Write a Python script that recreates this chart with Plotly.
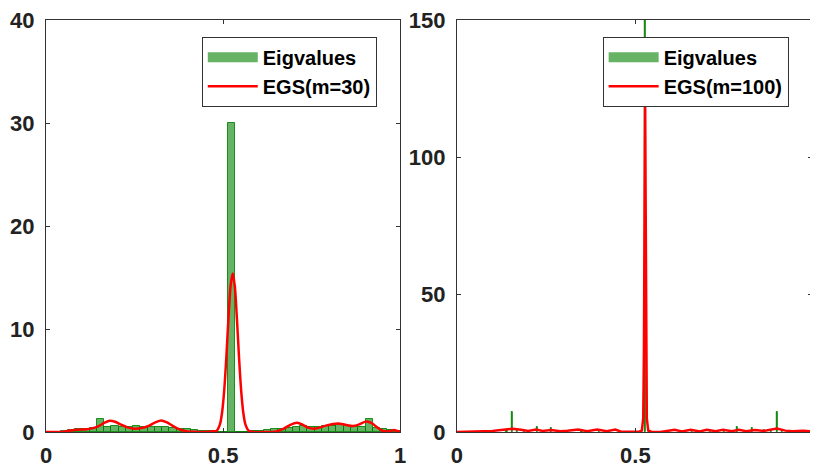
import numpy as np
import plotly.graph_objects as go

# ---------------- data ----------------
# left panel: histogram of eigenvalues (density), bin width 0.0205 starting at 0
left_bin_width = 0.0205
left_hist = [0, 0, 0.05, 0.2, 0.25, 0.3, 0.35, 1.3, 0.45, 0.6,
             0.5, 0.45, 0.6, 0.5, 0.45, 0.5, 0.5, 0.4, 0.3, 0.25,
             0.2, 0.1, 0.05, 0.02, 0.02, 30, 0.02, 0.03, 0.05, 0.1,
             0.15, 0.25, 0.3, 0.35, 0.5, 0.55, 0.45, 0.5, 0.55, 0.6,
             0.7, 0.6, 0.5, 0.45, 1.3, 0.4, 0.25, 0.15, 0.1]

# left panel: EGS(m=30) curve
egs30_x = [0, 0.03, 0.05, 0.07, 0.09, 0.11, 0.13, 0.15, 0.165, 0.18,
           0.195, 0.21, 0.23, 0.25, 0.27, 0.29, 0.31, 0.325, 0.34, 0.36,
           0.38, 0.40, 0.42, 0.44, 0.46, 0.47, 0.482, 0.491, 0.497, 0.503,
           0.509, 0.515, 0.521, 0.527, 0.533, 0.539, 0.545, 0.551, 0.557, 0.563,
           0.572, 0.585, 0.62, 0.65, 0.67, 0.69, 0.709, 0.725, 0.74, 0.755,
           0.77, 0.79, 0.81, 0.825, 0.845, 0.867, 0.885, 0.90, 0.909, 0.92,
           0.935, 0.95, 0.962, 0.975, 0.983, 0.992, 1.0]
egs30_y = [0, 0, 0.03, 0.15, 0.22, 0.25, 0.35, 0.6, 0.9, 1.1,
           1.0, 0.75, 0.45, 0.32, 0.38, 0.6, 0.95, 1.12, 0.95, 0.55,
           0.22, 0.06, 0.02, 0.0, 0.02, 0.07, 0.13, 0.74, 1.87, 3.99,
           7.2, 10.98, 14.15, 15.4, 14.15, 10.98, 7.2, 3.99, 1.87, 0.74,
           0.13, 0.0, 0.0, 0.05, 0.3, 0.7, 0.9, 0.7, 0.42, 0.32,
           0.4, 0.62, 0.78, 0.83, 0.7, 0.58, 0.75, 0.98, 1.0, 0.85,
           0.45, 0.12, 0.05, 0.12, 0.2, 0.1, 0.02]

# right panel: fine histogram of eigenvalues (density)
right_bar_width = 0.003
right_hist_x = [0.10, 0.14, 0.156, 0.17, 0.19, 0.225, 0.264, 0.30, 0.35, 0.40,
                0.527, 0.66, 0.71, 0.75, 0.786, 0.827, 0.86, 0.88, 0.896, 0.91]
right_hist_y = [0.4, 0.6, 7.2, 0.7, 0.5, 1.8, 1.5, 0.5, 0.6, 0.5,
                210, 0.5, 0.6, 0.5, 1.8, 1.6, 0.6, 0.5, 7.2, 0.6]

# right panel: EGS(m=100) curve
egs100_x = [0, 0.05, 0.10, 0.13, 0.156, 0.18, 0.20, 0.222, 0.24, 0.264,
            0.29, 0.31, 0.34, 0.365, 0.393, 0.42, 0.444, 0.46, 0.49, 0.51,
            0.518, 0.522, 0.524, 0.5255, 0.5265, 0.527, 0.5275, 0.5285, 0.530, 0.532,
            0.536, 0.545,
            0.57, 0.61, 0.63, 0.655, 0.68, 0.70, 0.725, 0.745, 0.77, 0.79,
            0.81, 0.835, 0.86, 0.896, 0.92, 0.94, 0.97, 1.0]
egs100_y = [0, 0.1, 0.4, 0.8, 1.2, 0.8, 0.4, 0.9, 0.4, 0.7,
            0.3, 0.5, 0.9, 0.3, 0.9, 0.3, 0.9, 0.1, 0.0, 0.1,
            0.5, 5, 30, 90, 118, 120, 118, 90, 30, 5,
            0.5, 0.1,
            0.0, 0.8, 0.2, 0.8, 0.2, 0.8, 0.3, 0.8, 0.3, 0.8,
            0.3, 0.7, 0.4, 1.3, 0.5, 0.3, 0.5, 0.2]

left_yticks = [0, 10, 20, 30, 40]
right_yticks = [0, 50, 100, 150]
xticks = [0, 0.5, 1]
xtick_labels = ["0", "0.5", "1"]

# ---------------- figure ----------------
GREEN_FILL = "rgba(0,128,0,0.6)"
GREEN_EDGE = "rgba(0,128,0,0.85)"
RED = "#ff0000"
FONT = "Liberation Sans, Arial, Helvetica, sans-serif"

left_centers = (np.arange(len(left_hist)) + 0.5) * left_bin_width

fig = go.Figure()
# legend-only patch entries (wide green swatch like the reference)
fig.add_trace(go.Scatter(x=[None], y=[None], mode="lines",
                         line=dict(color=GREEN_FILL, width=18),
                         name="Eigvalues", xaxis="x", yaxis="y", legend="legend"))
fig.add_trace(go.Bar(x=left_centers, y=left_hist, width=left_bin_width,
                     marker=dict(color=GREEN_FILL, line=dict(color=GREEN_EDGE, width=1)),
                     name="Eigvalues", showlegend=False, xaxis="x", yaxis="y"))
fig.add_trace(go.Scatter(x=egs30_x, y=egs30_y, mode="lines",
                         line=dict(color=RED, width=2.5, shape="spline", smoothing=0.8),
                         name="EGS(m=30)", xaxis="x", yaxis="y", legend="legend"))
fig.add_trace(go.Scatter(x=[None], y=[None], mode="lines",
                         line=dict(color=GREEN_FILL, width=18),
                         name="Eigvalues", xaxis="x2", yaxis="y2", legend="legend2"))
fig.add_trace(go.Scatter(x=egs100_x, y=egs100_y, mode="lines",
                         line=dict(color=RED, width=2.5),
                         name="EGS(m=100)", xaxis="x2", yaxis="y2", legend="legend2"))
fig.add_trace(go.Bar(x=right_hist_x, y=right_hist_y, width=right_bar_width,
                     marker=dict(color="rgba(0,128,0,0.9)", line=dict(color="rgba(0,128,0,0.9)", width=1)),
                     name="Eigvalues", showlegend=False, xaxis="x2", yaxis="y2"))

# page has an 8px body margin, so the figure is drawn at (8, 8)
OFF = 8
W, H = 818 - OFF, 472 - OFF
ml, mr, mt, mb = 46 - OFF, 0, 15 - OFF, 472 - 432
pw = W - ml - mr
ph = H - mt - mb
left_dom = [0, (403 - 46) / pw]
right_dom = [(460 - 46) / pw, 1]
right_xmax = (818 - 460) / 360.0

axis_common = dict(showline=True, linecolor="#333333", linewidth=1, mirror="ticks",
                   ticks="inside", ticklen=4, tickcolor="#333333",
                   showgrid=False, zeroline=False, ticklabeloverflow="allow",
                   tickfont=dict(family=FONT, size=22, color="#222222", weight="bold"))

legend_common = dict(xanchor="left", yanchor="top",
                     bgcolor="white", bordercolor="#333333", borderwidth=1,
                     font=dict(family=FONT, size=20, color="black", weight="bold"),
                     itemwidth=50, tracegroupgap=0)

fig.update_layout(
    width=W, height=H,
    margin=dict(l=ml, r=mr, t=mt, b=mb),
    paper_bgcolor="white", plot_bgcolor="white",
    barmode="overlay", bargap=0,
    xaxis=dict(domain=left_dom, range=[0, 1], tickvals=xticks, ticktext=xtick_labels,
               anchor="y", ticklabelstandoff=4, **axis_common),
    yaxis=dict(domain=[0, 1], range=[0, 40], tickvals=left_yticks, anchor="x",
               ticklabelstandoff=6, **axis_common),
    xaxis2=dict(domain=right_dom, range=[0, right_xmax], tickvals=xticks, ticktext=xtick_labels,
                anchor="y2", ticklabelstandoff=4, **axis_common),
    yaxis2=dict(domain=[0, 1], range=[0, 150], tickvals=right_yticks, anchor="x2",
                ticklabelstandoff=6, **axis_common),
    legend=dict(x=(203 - 46) / pw, y=(432 - 32) / ph, **legend_common),
    legend2=dict(x=(607 - 46) / pw, y=(432 - 32) / ph, **legend_common),
    showlegend=True,
)

fig.write_html("out.html")
